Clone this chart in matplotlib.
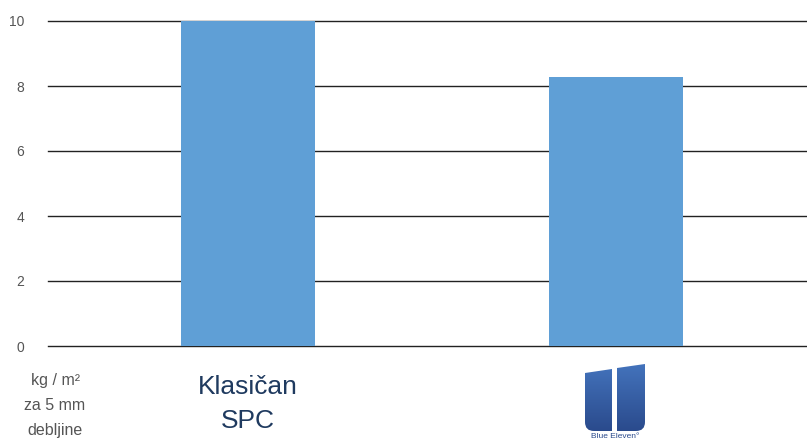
import numpy as np
import matplotlib.pyplot as plt
from matplotlib.patches import PathPatch
from matplotlib.path import Path
from matplotlib.colors import LinearSegmentedColormap

categories = ["Klasičan\nSPC", "Blue Eleven"]
values = [10.0, 8.27]
yticks = [0, 2, 4, 6, 8, 10]

W, H = 807, 442
fig = plt.figure(figsize=(W / 100, H / 100), dpi=100)
plt.rcParams['font.family'] = ['Liberation Sans', 'DejaVu Sans']

# main axes in pixel placement
x0, x1, y_top, y_bot = 48, 807, 21, 346
ax = fig.add_axes([x0 / W, 1 - y_bot / H, (x1 - x0) / W, (y_bot - y_top) / H])

xpos = np.arange(len(values))
ax.bar(xpos, values, width=0.364, color="#5f9fd6", zorder=2)
ax.set_xlim(-0.543, 1.519)
ax.set_ylim(0, 10)
ax.set_yticks(yticks)
ax.set_yticklabels([str(t) for t in yticks], color="#555555", fontsize=10)
ax.tick_params(axis='y', length=0, pad=17)
ax.set_xticks([])
for t in yticks:
    ax.axhline(t, color="#222222", lw=1, zorder=1, clip_on=False)
for s in ax.spines.values():
    s.set_visible(False)

# unit label
fig.text(55 / W, 1 - 381 / H, "kg / m²", ha='center', va='center', fontsize=11.5, color="#555555")
fig.text(55 / W, 1 - 405 / H, "za 5 mm", ha='center', va='center', fontsize=11.5, color="#555555")
fig.text(55 / W, 1 - 430 / H, "debljine", ha='center', va='center', fontsize=11.5, color="#555555")

# category label
fig.text(248 / W, 1 - 404 / H, categories[0], ha='center', va='center', fontsize=19,
         color="#1f3a5f", linespacing=1.5)

# logo (simplified) in pixel coordinates
lx0, lx1, ly0, ly1 = 575, 655, 360, 442
lax = fig.add_axes([lx0 / W, 1 - ly1 / H, (lx1 - lx0) / W, (ly1 - ly0) / H])
lax.set_xlim(lx0, lx1)
lax.set_ylim(ly1, ly0)
lax.axis('off')

r = 9
left_verts = [(585, 373), (612, 369), (612, 431), (585 + r, 431), (585, 431), (585, 431 - r), (585, 373)]
left_codes = [Path.MOVETO, Path.LINETO, Path.LINETO, Path.LINETO, Path.CURVE3, Path.CURVE3, Path.CLOSEPOLY]
right_verts = [(617, 368), (645, 364), (645, 431 - r), (645, 431), (645 - r, 431), (617, 431), (617, 368)]
right_codes = [Path.MOVETO, Path.LINETO, Path.LINETO, Path.CURVE3, Path.CURVE3, Path.LINETO, Path.CLOSEPOLY]

grad = np.linspace(0, 1, 100).reshape(-1, 1)
cmap = LinearSegmentedColormap.from_list("logo", ["#4474bd", "#2a4a8c"])
for verts, codes in [(left_verts, left_codes), (right_verts, right_codes)]:
    patch = PathPatch(Path(verts, codes), facecolor='none', edgecolor='none')
    lax.add_patch(patch)
    im = lax.imshow(grad, extent=(580, 650, 432, 362), cmap=cmap, aspect='auto')
    im.set_clip_path(patch)

lax.text(615, 437, "Blue Eleven°", ha='center', va='center', fontsize=6, color="#2a4a8c")

fig.savefig("out.png", dpi=100)
